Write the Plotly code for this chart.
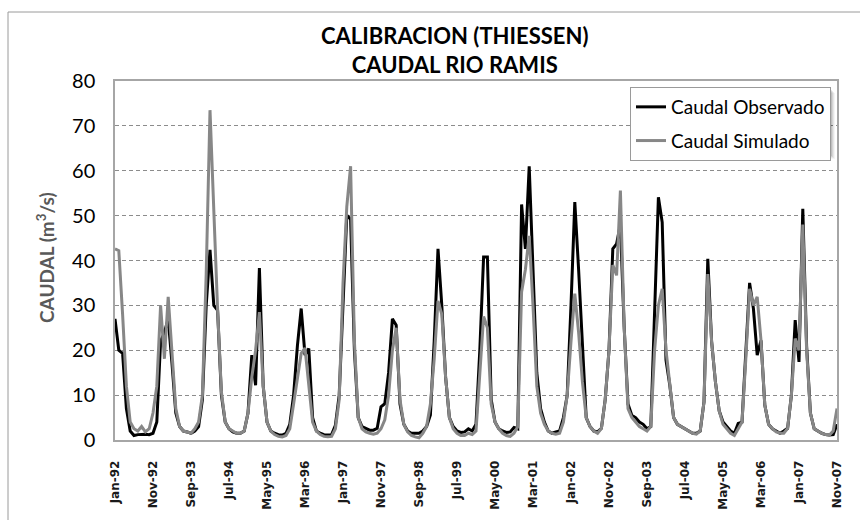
import pandas as pd
import plotly.graph_objects as go

# Monthly series, Jan-1992 .. Nov-2007
months = [d.strftime("%b-%y") for d in pd.date_range("1992-01-01", "2007-11-01", freq="MS")]

caudal_observado = [
    27.0, 20.0, 19.3, 7.0, 2.0, 1.0, 1.2, 1.3, 1.3, 1.2, 1.5, 4.0,        # 1992
    22.0, 24.0, 27.0, 17.0, 6.0, 3.0, 2.0, 1.8, 1.5, 2.0, 3.0, 9.0,       # 1993
    30.0, 42.4, 30.0, 28.9, 10.0, 4.0, 2.5, 1.8, 1.5, 1.5, 2.0, 6.0,      # 1994
    18.9, 12.2, 38.3, 12.0, 4.0, 2.0, 1.5, 1.2, 1.1, 1.5, 3.5, 10.0,      # 1995
    21.0, 29.3, 18.9, 20.4, 5.0, 2.0, 1.5, 1.2, 1.1, 1.2, 3.3, 10.0,      # 1996
    30.0, 50.1, 49.2, 20.0, 5.0, 3.0, 2.6, 2.2, 2.2, 2.6, 7.4, 8.1,       # 1997
    15.0, 27.0, 25.6, 8.0, 3.5, 2.0, 1.5, 1.5, 1.5, 2.0, 3.0, 5.6,        # 1998
    22.0, 42.6, 30.0, 14.0, 5.0, 3.0, 2.0, 1.7, 1.8, 2.5, 2.0, 3.5,       # 1999
    20.0, 40.8, 40.8, 9.0, 4.0, 2.5, 2.0, 1.7, 1.8, 2.8, 2.5, 52.5,       # 2000
    42.6, 61.0, 40.0, 15.0, 7.0, 4.0, 2.0, 1.5, 1.8, 2.0, 5.0, 10.0,      # 2001
    30.0, 53.0, 38.0, 20.0, 5.0, 3.0, 2.0, 1.8, 2.6, 9.0, 20.0, 42.6,     # 2002
    43.7, 48.0, 25.0, 8.0, 5.5, 5.0, 4.0, 3.5, 2.5, 3.0, 28.0, 54.1,      # 2003
    48.5, 17.8, 12.2, 5.0, 3.5, 3.0, 2.6, 2.0, 1.5, 1.5, 2.0, 8.5,        # 2004
    40.4, 22.0, 13.0, 6.5, 4.0, 3.0, 2.0, 1.5, 3.7, 4.0, 20.0, 35.0,      # 2005
    29.3, 18.9, 22.2, 7.8, 3.5, 2.5, 2.0, 1.5, 2.0, 2.6, 10.0, 26.7,      # 2006
    17.4, 51.5, 21.0, 6.0, 2.5, 2.0, 1.5, 1.2, 1.1, 1.2, 3.5,             # 2007
]

caudal_simulado = [
    42.6, 42.2, 28.0, 12.0, 4.0, 2.5, 2.0, 3.0, 1.8, 2.5, 6.0, 12.0,      # 1992
    30.0, 18.1, 31.9, 20.0, 7.0, 3.0, 2.0, 1.8, 1.5, 2.5, 4.0, 10.0,      # 1993
    37.0, 73.5, 50.0, 29.0, 10.7, 4.0, 2.5, 2.0, 1.5, 1.5, 2.0, 6.0,      # 1994
    14.0, 20.0, 28.5, 12.0, 4.0, 2.0, 1.2, 0.8, 0.7, 1.0, 2.5, 8.0,       # 1995
    14.0, 19.3, 20.5, 12.0, 4.0, 2.0, 1.2, 0.8, 0.7, 0.8, 2.5, 9.0,       # 1996
    35.0, 52.0, 61.0, 22.0, 5.0, 2.5, 1.8, 1.5, 1.3, 1.5, 2.5, 4.5,       # 1997
    10.0, 20.0, 25.0, 9.0, 3.5, 1.8, 1.0, 0.7, 0.5, 1.5, 3.0, 8.0,        # 1998
    18.0, 31.0, 28.0, 14.0, 5.0, 2.5, 1.5, 1.0, 1.0, 1.5, 1.2, 2.0,       # 1999
    15.0, 27.5, 25.0, 8.0, 4.0, 2.5, 1.5, 1.0, 0.8, 1.5, 3.0, 33.0,       # 2000
    38.0, 45.5, 30.0, 12.0, 6.0, 3.5, 2.0, 1.5, 1.3, 1.5, 4.0, 10.0,      # 2001
    22.0, 32.6, 24.0, 13.0, 5.0, 3.0, 2.0, 1.5, 2.6, 9.0, 20.0, 39.0,     # 2002
    36.7, 55.6, 25.0, 7.0, 5.0, 4.0, 3.0, 2.5, 2.0, 3.0, 20.0, 30.0,      # 2003
    33.7, 20.0, 12.0, 5.0, 3.5, 3.0, 2.6, 2.0, 1.5, 1.3, 2.0, 8.5,        # 2004
    37.0, 22.0, 13.0, 6.5, 3.5, 2.5, 1.5, 1.0, 2.5, 4.0, 18.0, 33.7,      # 2005
    30.0, 31.9, 22.2, 7.8, 3.5, 2.5, 1.8, 1.5, 1.5, 2.6, 10.0, 22.6,      # 2006
    20.0, 48.0, 20.0, 6.0, 2.5, 2.0, 1.5, 1.2, 1.1, 2.0, 7.0,             # 2007
]

tick_labels = ["Jan-92", "Nov-92", "Sep-93", "Jul-94", "May-95", "Mar-96", "Jan-97",
               "Nov-97", "Sep-98", "Jul-99", "May-00", "Mar-01", "Jan-02", "Nov-02",
               "Sep-03", "Jul-04", "May-05", "Mar-06", "Jan-07", "Nov-07"]

W, H = 860, 520
L, R, T, B = 115, 23, 81, 80
PW, PH = W - L - R, H - T - B


def px_x(x):
    return (x - L) / PW


def px_y(y):
    return (H - B - y) / PH


fig = go.Figure()
fig.add_trace(go.Scatter(x=months, y=caudal_observado, mode="lines", name="Caudal Observado",
                         line=dict(color="#000000", width=3), legendgroup="obs"))
fig.add_trace(go.Scatter(x=months, y=caudal_simulado, mode="lines", name="Caudal Simulado",
                         line=dict(color="#878787", width=3), legendgroup="sim"))

# soft drop shadow behind the legend box
shadow = [
    dict(type="rect", xref="paper", yref="paper",
         x0=px_x(630 + d), x1=px_x(831 + d), y0=px_y(89 + d), y1=px_y(155 + d),
         line=dict(width=0), fillcolor="rgba(0,0,0,%.2f)" % a, layer="above")
    for d, a in [(1, 0.10), (2, 0.08), (3, 0.06), (4, 0.04)]
]

fig.update_layout(
    width=W, height=H,
    margin=dict(l=L, r=R, t=T, b=B),
    paper_bgcolor="white", plot_bgcolor="white",
    showlegend=True,
    legend=dict(
        x=px_x(831), y=px_y(87), xanchor="right", yanchor="top",
        bgcolor="white", bordercolor="#9a9a9a", borderwidth=1,
        font=dict(family="Lato", size=19, color="#000000"),
        itemwidth=30, tracegroupgap=6,
    ),
    xaxis=dict(
        type="category", categoryorder="array", categoryarray=months,
        range=[0, len(months) - 1], automargin=False,
        tickmode="array", tickvals=tick_labels, ticktext=tick_labels,
        tickangle=-90, ticks="", ticklabelstandoff=14,
        tickfont=dict(family="DejaVu Sans", size=12, color="#1a1a1a", weight="bold"),
        showgrid=False, zeroline=False,
        showline=True, linecolor="#a6a6a6", linewidth=1.5, mirror=True,
    ),
    yaxis=dict(
        range=[0, 80], dtick=10, tick0=0, automargin=False,
        ticks="", ticklabelstandoff=14,
        tickfont=dict(family="Lato", size=20, color="#000000"),
        showgrid=True, gridcolor="#8c8c8c", gridwidth=1, griddash="4px,3px",
        zeroline=False,
        showline=True, linecolor="#a6a6a6", linewidth=1.5, mirror=True,
    ),
    annotations=[
        dict(text="<b>CALIBRACION (THIESSEN)<br>CAUDAL RIO RAMIS</b>",
             xref="paper", yref="paper", x=px_x(455), y=px_y(50),
             xanchor="center", yanchor="middle", showarrow=False,
             font=dict(family="Lato", size=22, color="#000000")),
        dict(text="<b>CAUDAL (m<sup>3</sup>/s)</b>",
             xref="paper", yref="paper", x=px_x(45), y=px_y(258),
             xanchor="center", yanchor="middle", textangle=-90, showarrow=False,
             font=dict(family="Lato", size=19, color="#595959")),
    ],
    shapes=[
        # outer chart frame
        dict(type="line", xref="paper", yref="paper",
             x0=px_x(8), x1=px_x(870), y0=px_y(12), y1=px_y(12),
             line=dict(color="#9a9a9a", width=1)),
        dict(type="line", xref="paper", yref="paper",
             x0=px_x(8), x1=px_x(8), y0=px_y(12), y1=px_y(530),
             line=dict(color="#9a9a9a", width=1)),
    ] + shadow,
)

fig.write_html("out.html")
